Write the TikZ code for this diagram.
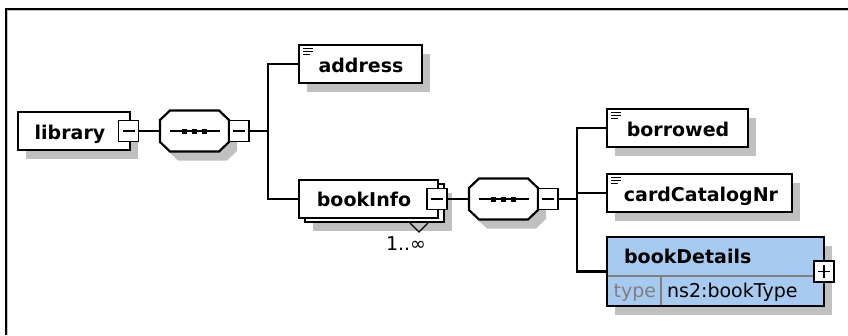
\documentclass[tikz,border=0pt]{standalone}
\usepackage{fontspec}
\setmainfont{DejaVu Sans}
\usetikzlibrary{shadows,calc}
\definecolor{shd}{HTML}{C0C0C0}
\definecolor{xblue}{HTML}{A6CAF0}
\definecolor{dimg}{HTML}{808080}
\newcommand\xbt{\fontsize{19}{22}\selectfont\bfseries}
\newcommand\xrt{\fontsize{19}{22}\selectfont}
\newcommand\xoctpath[2]{(#1-24.5,#2-20.5) -- (#1+24.5,#2-20.5) -- (#1+34.5,#2-11) -- (#1+34.5,#2+11) -- (#1+24.5,#2+20.5) -- (#1-24.5,#2+20.5) -- (#1-34.5,#2+11) -- (#1-34.5,#2-11) -- cycle}
\newcommand\xoctdots[2]{\draw[line width=1.6pt] (#1-25,#2) -- (#1+25,#2);
  \fill (#1-12.5,#2-2.5) rectangle ++(5,5);
  \fill (#1-2.5,#2-2.5) rectangle ++(5,5);
  \fill (#1+7.5,#2-2.5) rectangle ++(5,5);}
\begin{document}
\begin{tikzpicture}[x=1pt,y=-1pt,line width=2.2pt,
  shadowed/.style={general shadow={fill=shd,shadow xshift=8pt,shadow yshift=-9pt}},
  elemns/.style={draw,fill=white,minimum height=38pt,inner sep=0pt},
  elem/.style={elemns,shadowed},
  icon/.style={path picture={
    \foreach \d/\l in {3.5/10,6.5/10,9.5/7}{\draw[line width=1.4pt] ([xshift=4pt,yshift=-\d pt]path picture bounding box.north west) -- ++(\l pt,0pt);}}},
  mbox/.style={draw,fill=white,minimum width=20pt,minimum height=21pt,inner sep=0pt,line width=1.8pt,
    path picture={\draw[line width=1.5pt] ([xshift=4pt]path picture bounding box.west) -- ([xshift=-4pt]path picture bounding box.east);}},
  pbox/.style={mbox,path picture={\draw[line width=1.5pt] ([xshift=4pt]path picture bounding box.west) -- ([xshift=-4pt]path picture bounding box.east);
     \draw[line width=1.5pt] ([yshift=-4pt]path picture bounding box.north) -- ([yshift=4pt]path picture bounding box.south);}},
  octbox/.style={rectangle,minimum width=69pt,minimum height=41pt,inner sep=0pt},
  txt/.style={inner sep=0pt,anchor=base},
  conn/.style={line width=2.2pt}]
\useasboundingbox (0,0) rectangle (848,335);
% frame
\draw[line width=2pt] (6,335) -- (6,8.7) -- (848,8.7);
\draw[line width=1pt,shd] (7.5,335) -- (7.5,10.2) -- (848,10.2);

% library
\node[elem,minimum width=112pt] (library) at (74,131) {};
\node[txt] (library-t) at (70,139) {\xbt library};
\node[mbox] (librarym) at (128.5,131) {};

% sequence 1
\fill[shd] \xoctpath{202.5}{140};
\draw[fill=white] \xoctpath{194.5}{131};
\xoctdots{194.5}{131}
\node[octbox] (oct1) at (194.5,131) {};
\node[mbox] (oct1m) at (239,131) {};

% address
\node[elem,icon,minimum width=123pt] (address) at (360.5,64) {};
\node[txt] (address-t) at (361,72) {\xbt address};

% bookInfo
\node[elem,minimum width=139pt] (bookinfob) at (374.5,203) {};
\node[elemns,minimum width=139pt] (bookinfo) at (368.5,199) {};
\node[txt] (bookinfo-t) at (364,206) {\xbt bookInfo};
\node[mbox] (bookinfom) at (437,199) {};
\draw[line width=1.3pt] (410,223) -- (419,232) -- (428,223);
\node[txt] (card-t) at (406,250) {\xrt 1..∞};

% sequence 2
\fill[shd] \xoctpath{511.5}{208};
\draw[fill=white] \xoctpath{503.5}{199};
\xoctdots{503.5}{199}
\node[octbox] (oct2) at (503.5,199) {};
\node[mbox] (oct2m) at (548,199) {};

% borrowed, cardCatalogNr
\node[elem,icon,minimum width=141pt] (borrowed) at (677.5,128) {};
\node[txt] (borrowed-t) at (678,136) {\xbt borrowed};
\node[elem,icon,minimum width=185pt] (cardcat) at (699.5,193) {};
\node[txt] (cardcat-t) at (701,201) {\xbt cardCatalogNr};

% bookDetails
\node[draw,fill=xblue,shadowed,minimum width=217pt,minimum height=69pt,inner sep=0pt] (bookdetails) at (715.5,271.5) {};
\draw[dimg,line width=1.3pt] (608,276) -- (823,276);
\draw[dimg,line width=1.3pt] (661,276) -- (661,305);
\node[txt,anchor=base west] (bookdetails-t) at (623,263) {\xbt bookDetails};
\node[txt,anchor=base west,text=dimg] (type-t) at (612.5,297) {\xrt type};
\node[txt,anchor=base west] (typename-t) at (666,297) {\xrt ns2:bookType};
\node[pbox] (bookdetailsp) at (824,271.5) {};

% connectors
\coordinate (j1) at (268,131);
\coordinate (j2) at (577,199);
\draw[conn] (librarym.east) -- (oct1.west);
\draw[conn] (oct1m.east) -- (j1);
\draw[conn] (address.west) -| (j1) |- (bookinfo.west);
\draw[conn] (bookinfom.east) -- (oct2.west);
\draw[conn] (oct2m.east) -- (j2);
\draw[conn] (borrowed.west) -| (j2) |- (bookdetails.west);
\draw[conn] (j2 |- cardcat.west) -- (cardcat.west);
\end{tikzpicture}
\end{document}
